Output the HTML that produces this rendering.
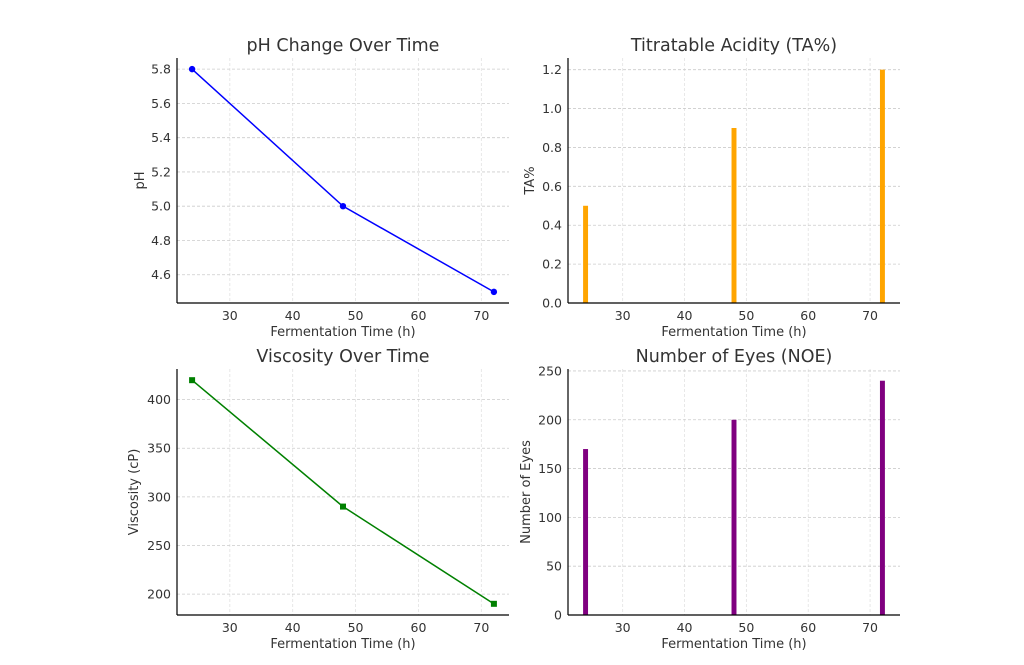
<!DOCTYPE html>
<html><head><meta charset="utf-8"><style>
body{margin:0;background:#fff;width:1024px;height:660px;overflow:hidden}
svg{font-family:"DejaVu Sans","Liberation Sans",sans-serif}
</style></head><body>
<svg id="c" width="1024" height="660"></svg>
<script>
const times=[24,48,72];
const phValues=[5.8,5.0,4.5];
const taValues=[0.5,0.9,1.2];
const viscValues=[420,290,190];
const noeValues=[170,200,240];
const xTicks=[30,40,50,60,70];
const phTicks=[4.6,4.8,5.0,5.2,5.4,5.6,5.8];
const taTicks=[0.0,0.2,0.4,0.6,0.8,1.0,1.2];
const viscTicks=[200,250,300,350,400];
const noeTicks=[0,50,100,150,200,250];
const svg=document.getElementById('c');
const NS='http://www.w3.org/2000/svg';
function mk(t,a,p){const e=document.createElementNS(NS,t);for(const k in a)e.setAttribute(k,a[k]);(p||svg).appendChild(e);return e;}
function panel(o){
 const g=mk('g',{});
 
 
 const {L,R,T,B}=o;
 const sx=v=>L+(v-o.xmin)/(o.xmax-o.xmin)*(R-L);
 const sy=v=>B-(v-o.ymin)/(o.ymax-o.ymin)*(B-T);
 xTicks.forEach(t=>{const x=sx(t);
  const gl=mk('line',{x1:x,x2:x,y1:T,y2:B,stroke:'#e2e2e2','stroke-dasharray':'3,2','stroke-width':0.8},g);
  
  const tx=mk('text',{x:x,y:B+17,'text-anchor':'middle','font-size':12.5,fill:'#333'},g);tx.textContent=t;
  });
 o.yt.forEach(t=>{const y=sy(t);
  const gl=mk('line',{x1:L,x2:R,y1:y,y2:y,stroke:'#ccc','stroke-dasharray':'3,2','stroke-width':0.8},g);
  
  const tx=mk('text',{x:L-6,y:y+4.5,'text-anchor':'end','font-size':12.5,fill:'#333'},g);tx.textContent=o.fmt(t);
  });
 if(o.type==='line'){
  const pts=times.map((t,i)=>sx(t)+','+sy(o.vals[i])).join(' ');
  const pl=mk('polyline',{points:pts,fill:'none',stroke:o.color,'stroke-width':1.5},g);
  
  times.forEach((t,i)=>{let m;
   if(o.marker==='o')m=mk('circle',{cx:sx(t),cy:sy(o.vals[i]),r:3.2,fill:o.color},g);
   else m=mk('rect',{x:sx(t)-3,y:sy(o.vals[i])-3,width:6,height:6,fill:o.color},g);
   });
 }else{
  times.forEach((t,i)=>{const x0=sx(t-0.4),x1=sx(t+0.4),y=sy(o.vals[i]);
   const r=mk('rect',{x:x0,y:y,width:x1-x0,height:sy(0)-y,fill:o.color},g);
   });
 }
 mk('line',{x1:L,x2:L,y1:T,y2:B,stroke:'#000','stroke-width':1.2},g);
 mk('line',{x1:L,x2:R,y1:B,y2:B,stroke:'#000','stroke-width':1.2},g);
 const ti=mk('text',{x:(L+R)/2,y:T-7,'text-anchor':'middle','font-size':17.5,fill:'#333'},g);ti.textContent=o.title;
 
 const xl=mk('text',{x:(L+R)/2,y:B+33,'text-anchor':'middle','font-size':13,fill:'#333'},g);xl.textContent='Fermentation Time (h)';
 
 const cy=(T+B)/2;
 const yl=mk('text',{x:o.ylx,y:cy,'text-anchor':'middle','font-size':13,fill:'#333',transform:`rotate(-90 ${o.ylx} ${cy})`},g);yl.textContent=o.ylabel;
 
}
const lx=[21.6,74.4], bx=[21.16,74.84];
panel({name:'ph-panel',L:177,R:509,T:58,B:303,xmin:lx[0],xmax:lx[1],ymin:4.435,ymax:5.865,yt:phTicks,fmt:v=>v.toFixed(1),type:'line',vals:phValues,color:'#0000ff',marker:'o',title:'pH Change Over Time',ylabel:'pH',ylx:144});
panel({name:'ta-panel',L:568,R:900,T:58,B:303,xmin:bx[0],xmax:bx[1],ymin:0,ymax:1.26,yt:taTicks,fmt:v=>v.toFixed(1),type:'bar',vals:taValues,color:'#ffa500',title:'Titratable Acidity (TA%)',ylabel:'TA%',ylx:534});
panel({name:'viscosity-panel',L:177,R:509,T:369,B:615,xmin:lx[0],xmax:lx[1],ymin:178.5,ymax:431.5,yt:viscTicks,fmt:v=>v,type:'line',vals:viscValues,color:'#008000',marker:'s',title:'Viscosity Over Time',ylabel:'Viscosity (cP)',ylx:138});
panel({name:'noe-panel',L:568,R:900,T:369,B:615,xmin:bx[0],xmax:bx[1],ymin:0,ymax:252,yt:noeTicks,fmt:v=>v,type:'bar',vals:noeValues,color:'#800080',title:'Number of Eyes (NOE)',ylabel:'Number of Eyes',ylx:530});
</script>
</body></html>
